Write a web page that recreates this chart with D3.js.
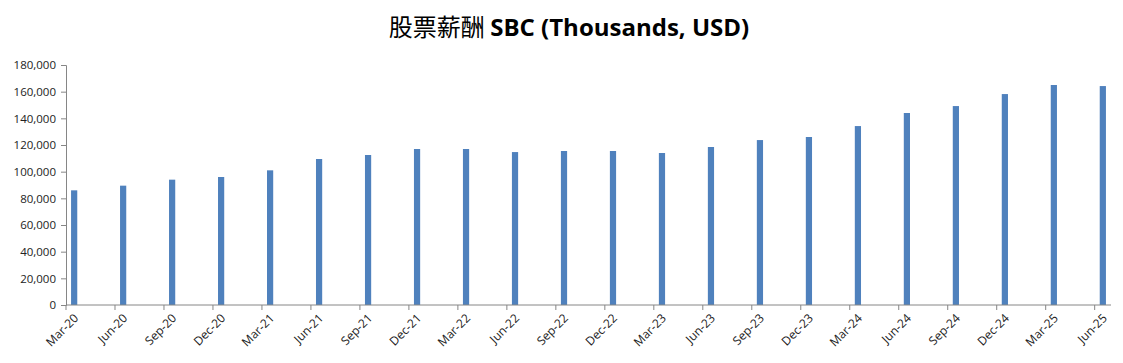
<!DOCTYPE html>
<html>
<head>
<meta charset="utf-8">
<script src="https://cdn.jsdelivr.net/npm/d3@7"></script>
<style>
  body { margin: 0; background: #fff; }
  svg { display: block; }
</style>
</head>
<body>
<svg width="1123" height="363"></svg>
<script>
// quarter labels and SBC values (thousands USD)
var quarters = ['Mar-20', 'Jun-20', 'Sep-20', 'Dec-20', 'Mar-21', 'Jun-21', 'Sep-21', 'Dec-21',
    'Mar-22', 'Jun-22', 'Sep-22', 'Dec-22', 'Mar-23', 'Jun-23', 'Sep-23', 'Dec-23',
    'Mar-24', 'Jun-24', 'Sep-24', 'Dec-24', 'Mar-25', 'Jun-25'];
var sbc = [86000, 89500, 94000, 96000, 101000, 109500, 112500, 117000,
    117000, 114700, 115500, 115500, 114000, 118500, 123700, 126000,
    134200, 144000, 149200, 158200, 165000, 164200];
var yTicks = [0, 20000, 40000, 60000, 80000, 100000, 120000, 140000, 160000, 180000];

var svg = d3.select('svg');
var plotLeft = 66, plotRight = 1111, plotTop = 65, plotBottom = 305;

// date axis: one slot per month, bars only on quarter months
var parse = d3.utcParse('%b-%y');
var fmt = d3.utcFormat('%b-%y');
var months = d3.utcMonth.range(parse(quarters[0]), d3.utcMonth.offset(parse(quarters[quarters.length - 1]), 1)).map(fmt);

var x = d3.scaleBand()
    .domain(months)
    .range([plotLeft, plotRight])
    .paddingInner(0.62)
    .paddingOuter(0.31);

var slot = d3.scaleBand().domain(months).range([plotLeft, plotRight]);

var y = d3.scaleLinear()
    .domain([0, 180000])
    .range([plotBottom, plotTop]);

// y axis
var yAxis = d3.axisLeft(y)
    .tickValues(yTicks)
    .tickSize(5)
    .tickPadding(5)
    .tickFormat(d3.format(','));

svg.append('g')
    .attr('transform', 'translate(' + plotLeft + ',0)')
    .call(yAxis)
    .call(function (g) {
        g.selectAll('path, line').attr('stroke', '#868686');
        g.selectAll('text').attr('fill', '#222').style('font-family', 'Open Sans, sans-serif').style('font-size', '11.5px');
    });

// bars
svg.append('g')
    .selectAll('rect')
    .data(quarters)
    .join('rect')
    .attr('x', function (d) { return x(d); })
    .attr('width', x.bandwidth())
    .attr('y', function (d, i) { return y(sbc[i]); })
    .attr('height', function (d, i) { return y(0) - y(sbc[i]); })
    .attr('fill', '#4F81BD');

// x axis
var xg = svg.append('g');
xg.append('line')
    .attr('x1', plotLeft).attr('x2', plotRight)
    .attr('y1', plotBottom).attr('y2', plotBottom)
    .attr('stroke', '#868686');

xg.selectAll('line.tick')
    .data(quarters)
    .join('line')
    .attr('class', 'tick')
    .attr('x1', function (d) { return slot(d); })
    .attr('x2', function (d) { return slot(d); })
    .attr('y1', plotBottom).attr('y2', plotBottom + 5)
    .attr('stroke', '#868686');

xg.selectAll('text')
    .data(quarters)
    .join('text')
    .attr('transform', function (d) {
        return 'translate(' + (slot(d) + slot.bandwidth() / 2 + 2) + ',' + (plotBottom + 11) + ')rotate(-45)';
    })
    .attr('text-anchor', 'end')
    .attr('dy', '0.35em')
    .attr('fill', '#222')
    .style('font-family', 'Open Sans, sans-serif')
    .style('font-size', '12px')
    .text(function (d) { return d; });

// title
var title = svg.append('text')
    .attr('x', 569)
    .attr('y', 36)
    .attr('text-anchor', 'middle')
    .attr('fill', '#000');
title.append('tspan')
    .style('font-family', 'Noto Sans CJK SC')
    .style('font-size', '24px')
    .text('股票薪酬 ');
title.append('tspan')
    .style('font-family', 'Open Sans, sans-serif')
    .style('font-weight', 'bold')
    .style('font-size', '24px')
    .text('SBC (Thousands, USD)');
</script>
</body>
</html>
